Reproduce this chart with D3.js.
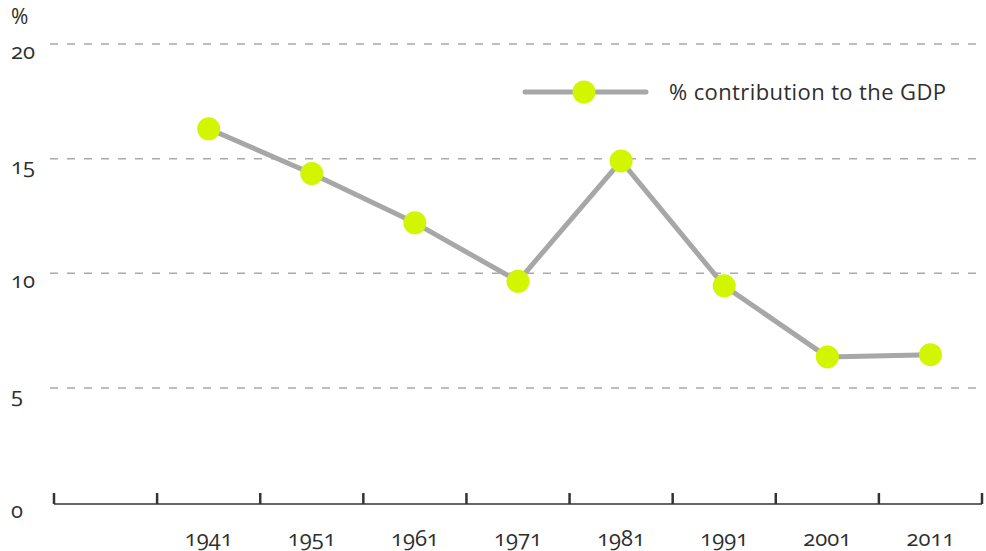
<!DOCTYPE html>
<html>
<head>
<meta charset="utf-8">
<script src="https://cdn.jsdelivr.net/npm/d3@7/dist/d3.min.js"></script>
<style>
  html, body { margin: 0; padding: 0; background: #fff; }
  svg text { font-family: "Open Sans", "Lato", sans-serif; fill: #2e2e2e; font-weight: 500; font-variant-numeric: oldstyle-nums; font-feature-settings: "onum" 1; }
</style>
</head>
<body>
<svg id="chart" width="986" height="551"></svg>
<script>
// Census years (first band on the axis is left empty)
const years = ["", "1941", "1951", "1961", "1971", "1981", "1991", "2001", "2011"];
const pointYears = ["1941", "1951", "1961", "1971", "1981", "1991", "2001", "2011"];
// Share of GDP, in percent
const gdpShare = [16.3, 14.35, 12.2, 9.65, 14.9, 9.45, 6.35, 6.45];
const yTicks = [0, 5, 10, 15, 20];
const seriesLabel = "% contribution to the GDP";

const svg = d3.select("#chart");
const plotLeft = 54, plotRight = 982, plotTop = 44, plotBottom = 502.5;
const fontSize = 22;

const x = d3.scaleBand().domain(years).range([plotLeft, plotRight]).padding(0);
const y = d3.scaleLinear().domain([0, 20]).range([plotBottom, plotTop]);

// dashed horizontal gridlines
svg.append("g")
  .selectAll("line")
  .data(yTicks.filter(d => d > 0))
  .join("line")
  .attr("x1", 50).attr("x2", 976)
  .attr("y1", d => y(d)).attr("y2", d => y(d))
  .attr("stroke", "#a9a9a9")
  .attr("stroke-width", 1.5)
  .attr("stroke-dasharray", "8,9");

// y labels, set just below each gridline
svg.append("g")
  .selectAll("text")
  .data(yTicks)
  .join("text")
  .attr("x", 11)
  .attr("y", d => y(d) + 15)
  .attr("font-size", fontSize)
  .text(d => d);

svg.append("text")
  .attr("x", 11).attr("y", 24)
  .attr("font-size", fontSize - 1)
  .text("%");

// x axis: baseline with ticks at band boundaries
const xAxis = svg.append("g").attr("transform", `translate(0,${plotBottom + 1.5})`);
xAxis.append("line")
  .attr("x1", plotLeft).attr("x2", plotRight)
  .attr("stroke", "#333").attr("stroke-width", 1.5);
const bounds = years.map(d => x(d)).concat([plotRight]);
xAxis.selectAll("line.tick")
  .data(bounds)
  .join("line")
  .attr("class", "tick")
  .attr("x1", d => d).attr("x2", d => d)
  .attr("y1", -11).attr("y2", 0)
  .attr("stroke", "#333").attr("stroke-width", 2.5);
xAxis.selectAll("text")
  .data(pointYears)
  .join("text")
  .attr("x", d => x(d) + x.bandwidth() / 2)
  .attr("y", 42)
  .attr("text-anchor", "middle")
  .attr("font-size", fontSize)
  .text(d => d);

// the series
const pts = pointYears.map((d, i) => ({ year: d, v: gdpShare[i] }));
const line = d3.line()
  .x(d => x(d.year) + x.bandwidth() / 2)
  .y(d => y(d.v));

svg.append("path")
  .datum(pts)
  .attr("d", line)
  .attr("fill", "none")
  .attr("stroke", "#a7a7a7")
  .attr("stroke-width", 5)
  .attr("stroke-linejoin", "round");

svg.append("g")
  .selectAll("circle")
  .data(pts)
  .join("circle")
  .attr("cx", d => x(d.year) + x.bandwidth() / 2)
  .attr("cy", d => y(d.v))
  .attr("r", 11.5)
  .attr("fill", "#d2f500");

// legend
const lg = svg.append("g").attr("transform", "translate(0,92)");
lg.append("line")
  .attr("x1", 525).attr("x2", 646)
  .attr("stroke", "#a7a7a7").attr("stroke-width", 5)
  .attr("stroke-linecap", "round");
lg.append("circle")
  .attr("cx", 584).attr("cy", 0).attr("r", 11.5)
  .attr("fill", "#d2f500");
lg.append("text")
  .attr("x", 669).attr("y", 8)
  .attr("font-size", fontSize)
  .attr("textLength", 277)
  .attr("lengthAdjust", "spacing")
  .text(seriesLabel);
</script>
</body>
</html>
